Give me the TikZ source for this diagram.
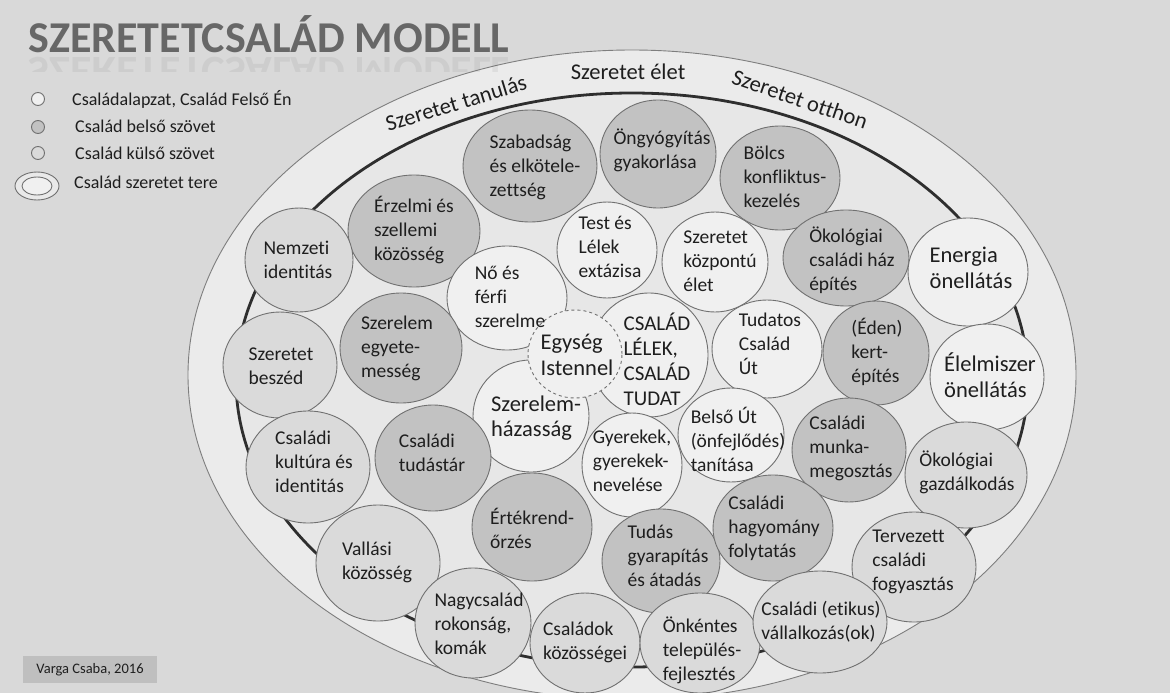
\documentclass[tikz,border=0pt]{standalone}
\usepackage{fontspec}
\setmainfont{Carlito}[Ligatures={NoCommon,NoContextual}]
\usetikzlibrary{shapes.geometric}

\definecolor{hatter}{HTML}{D9D9D9}
\definecolor{terc}{HTML}{EBEBEB}
\definecolor{belterc}{HTML}{E7E7E7}
\definecolor{alapc}{HTML}{F0F0F0}
\definecolor{belsoc}{HTML}{C2C2C2}
\definecolor{kulsoc}{HTML}{DADADA}
\definecolor{keretc}{HTML}{707070}
\definecolor{betuc}{HTML}{1E1E1E}
\definecolor{cimc}{HTML}{676767}

\tikzset{
  kor/.style={ellipse, draw=keretc, line width=0.9pt, inner sep=0pt},
  alap/.style={kor, fill=alapc},
  belso/.style={kor, fill=belsoc},
  kulso/.style={kor, fill=kulsoc},
  meret/.style 2 args={minimum width=#1pt, minimum height=#2pt},
  felirat/.style={align=left, inner sep=0pt, text=betuc, font=\fontsize{19.5}{24}\selectfont},
  nagy/.style={felirat, font=\fontsize{22.5}{26.5}\selectfont},
  jel/.style={anchor=west, inner sep=0pt, text=betuc, font=\fontsize{18}{20}\selectfont},
  cim/.style={anchor=base west, inner sep=0pt, text=cimc, font=\fontsize{44}{44}\selectfont\bfseries},
}

\begin{document}
\begin{tikzpicture}[x=1pt, y=-1pt]
	\useasboundingbox (0,0) rectangle (1170,693);
	\clip (0,0) rectangle (1170,693);
	\fill[hatter] (0,0) rectangle (1170,693);
%
	\node[ellipse, fill=terc, draw=keretc!90, line width=0.9pt, meret={888}{650}] (szeretetter) at (632,375) {};
	\node[ellipse, fill=belterc, draw=black!82, line width=2.8pt, meret={792}{574}] (belter) at (632,380) {};
%
	\node[cim] (cimsor) at (28,53) {SZERETETCSALÁD MODELL};
	\begin{scope}
		\clip (20,56) rectangle (560,72);
		\node[cim, yscale=-1, transform shape, opacity=0.1] (tukor) at (28,58) {SZERETETCSALÁD MODELL};
	\end{scope}
%
	\node[alap, meret={13}{13}] (j1) at (38,99) {};
	\node[belso, meret={13}{13}] (j2) at (38,127) {};
	\node[kulso, meret={13}{13}] (j3) at (38,153) {};
	\node[kor, fill=kulsoc!60, meret={44}{28}] (j4) at (37,186) {};
	\node[alap, meret={30}{18}] (j4b) at (37,186) {};
	\node[jel] (l1) at (72,99) {Családalapzat, Család Felső Én};
	\node[jel] (l2) at (75,126) {Család belső szövet};
	\node[jel] (l3) at (75,153) {Család külső szövet};
	\node[jel] (l4) at (74,182) {Család szeretet tere};
%
	\node[nagy, rotate=17] (tanulas) at (456,103) {Szeretet tanulás};
	\node[nagy] (elet) at (628,72) {Szeretet élet};
	\node[nagy, rotate=-19] (otthon) at (800,99) {Szeretet otthon};
%
	\node[belso, meret={134}{112}] (szabadsag) at (530,166) {};
	\node[belso, meret={116}{108}] (ongyogyitas) at (658,154) {};
	\node[belso, meret={120}{104}] (bolcs) at (780,178) {};
	\node[belso, meret={132}{112}] (erzelmi) at (414,231) {};
	\node[kulso, meret={108}{104}] (nemzeti) at (299,260) {};
	\node[alap, meret={100}{96}] (test) at (607,250) {};
	\node[alap, meret={106}{100}] (kozpontu) at (715,262) {};
	\node[belso, meret={126}{96}] (okohaz) at (846,258) {};
	\node[alap, meret={120}{108}] (energia) at (968,272) {};
	\node[alap, meret={120}{104}] (noferfi) at (507,298) {};
	\node[belso, meret={122}{110}] (egyetemes) at (401,348) {};
	\node[kulso, meret={114}{106}] (beszed) at (280,365) {};
	\node[alap, meret={118}{124}] (csalad) at (649,355) {};
	\node[alap, meret={110}{98}] (tudatos) at (767,349) {};
	\node[belso, meret={106}{104}] (eden) at (876,353) {};
	\node[alap, meret={114}{106}] (elelmiszer) at (987,377) {};
	\node[alap, meret={116}{112}] (hazassag) at (531,416) {};
	\node[kulso, meret={124}{112}] (kultura) at (308,467) {};
	\node[belso, meret={116}{106}] (tudastar) at (433,458) {};
	\node[alap, meret={100}{104}] (gyerekek) at (632,465) {};
	\node[alap, meret={106}{94}] (belsout) at (731,435) {};
	\node[belso, meret={114}{104}] (munka) at (849,450) {};
	\node[kulso, meret={122}{106}] (gazdalkodas) at (966,475) {};
	\node[belso, meret={120}{108}] (ertekrend) at (532,527) {};
	\node[kulso, meret={124}{116}] (vallasi) at (378,563) {};
	\node[belso, meret={118}{104}] (tudas) at (661,561) {};
	\node[belso, meret={120}{106}] (hagyomany) at (773,528) {};
	\node[kulso, meret={124}{110}] (tervezett) at (914,567) {};
	\node[kulso, meret={116}{110}] (nagycsalad) at (473,623) {};
	\node[kulso, meret={110}{100}] (kozossegei) at (585,643) {};
	\node[kulso, meret={120}{100}] (onkentes) at (700,643) {};
	\node[kulso, meret={134}{102}] (vallalkozas) at (820,622) {};
	\node[alap, dashed, meret={94}{88}] (egyseg) at (575,354) {};
%
	\node[felirat] (tszabadsag) at (535,167) {Szabadság\\és elkötele-\\zettség};
	\node[felirat] (tongyogyitas) at (662,150) {Öngyógyítás\\gyakorlása};
	\node[felirat] (tbolcs) at (785,177) {Bölcs\\konfliktus-\\kezelés};
	\node[felirat] (terzelmi) at (414,230) {Érzelmi és\\szellemi\\közösség};
	\node[felirat] (tnemzeti) at (298,260) {Nemzeti\\identitás};
	\node[felirat] (ttest) at (610,247) {Test és\\Lélek\\extázisa};
	\node[felirat] (tkozpontu) at (720,261) {Szeretet\\központú\\élet};
	\node[felirat] (tokohaz) at (852,260) {Ökológiai\\családi ház\\építés};
	\node[nagy] (tenergia) at (971,268) {Energia\\önellátás};
	\node[felirat] (tnoferfi) at (510,297) {Nő és\\férfi\\szerelme};
	\node[felirat] (tegyetemes) at (397,348) {Szerelem\\egyete-\\messég};
	\node[felirat] (tbeszed) at (281,366) {Szeretet\\beszéd};
	\node[felirat, font=\fontsize{21}{25}\selectfont] (tcsalad) at (657,359) {CSALÁD\\LÉLEK,\\CSALÁD\\TUDAT};
	\node[nagy] (tegyseg) at (577,355) {Egység\\Istennel};
	\node[felirat] (ttudatos) at (770,344) {Tudatos\\Család\\Út};
	\node[felirat] (teden) at (877,352) {(Éden)\\kert-\\építés};
	\node[nagy] (telelmiszer) at (990,375) {Élelmiszer\\önellátás};
	\node[nagy, font=\fontsize{22.5}{25}\selectfont] (thazassag) at (536,418) {Szerelem-\\házasság};
	\node[felirat] (tkultura) at (314,462) {Családi\\kultúra és\\identitás};
	\node[felirat] (ttudastar) at (432,453) {Családi\\tudástár};
	\node[felirat] (tgyerekek) at (632,461) {Gyerekek,\\gyerekek-\\nevelése};
	\node[felirat] (tbelsout) at (738,439) {Belső Út\\(önfejlődés)\\tanítása};
	\node[felirat] (tmunka) at (851,448) {Családi\\munka-\\megosztás};
	\node[felirat] (tgazdalkodas) at (967,472) {Ökológiai\\gazdálkodás};
	\node[felirat] (tertekrend) at (532,528) {Értékrend-\\őrzés};
	\node[felirat] (tvallasi) at (377,562) {Vallási\\közösség};
	\node[felirat] (ttudas) at (668,556) {Tudás\\gyarapítás\\és átadás};
	\node[felirat] (thagyomany) at (774,528) {Családi\\hagyomány\\folytatás};
	\node[felirat] (ttervezett) at (913,562) {Tervezett\\családi\\fogyasztás};
	\node[felirat] (tnagycsalad) at (479,624) {Nagycsalád\\rokonság,\\komák};
	\node[felirat] (tkozossegei) at (585,642) {Családok\\közösségei};
	\node[felirat] (tonkentes) at (702,650) {Önkéntes\\település-\\fejlesztés};
	\node[felirat] (tvallalkozas) at (821,622) {Családi (etikus)\\vállalkozás(ok)};
%
	\node[fill=black!25, text=betuc, font=\fontsize{14.5}{16}\selectfont, minimum width=134pt, minimum height=27pt, inner sep=0pt] (szerzo) at (90,669.5) {Varga Csaba, 2016};
\end{tikzpicture}
\end{document}
